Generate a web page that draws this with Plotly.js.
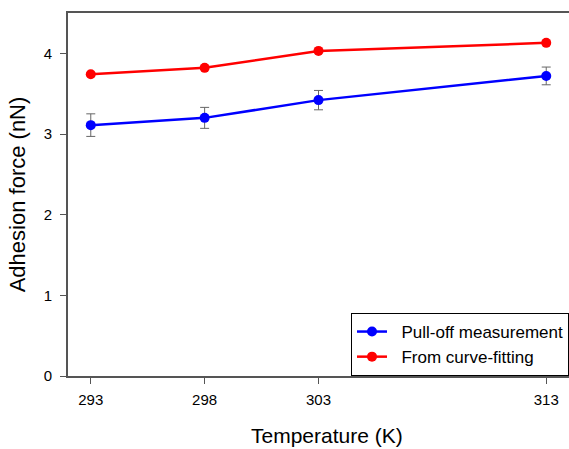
<!DOCTYPE html>
<html><head><meta charset="utf-8">
<script src="https://cdn.plot.ly/plotly-3.0.1.min.js"></script>
<style>html,body{margin:0;padding:0;background:#fff;overflow:hidden}#chart{width:569px;height:449px}</style>
</head><body><div id="chart"></div>
<script>
const temperatures = [293, 298, 303, 313];
const pullOff = [3.11, 3.20, 3.42, 3.72];
const pullOffErr = [0.14, 0.13, 0.12, 0.11];
const curveFit = [3.74, 3.82, 4.03, 4.13];
const xTicks = [293, 298, 303, 313];
const yTicks = [0, 1, 2, 3, 4];
const seriesNames = ['Pull-off measurement', 'From curve-fitting'];
const xTitle = 'Temperature (K)';
const yTitle = 'Adhesion force (nN)';

const pad = '\u00A0\u00A0';
const traces = [
  {x: temperatures, y: pullOff, name: pad + seriesNames[0], type: 'scatter', mode: 'lines+markers',
   line: {color: '#0000ff', width: 2.5}, marker: {color: '#0000ff', size: 10},
   error_y: {type: 'data', array: pullOffErr, visible: true, color: '#666', thickness: 1, width: 4.5}},
  {x: temperatures, y: curveFit, name: pad + seriesNames[1], type: 'scatter', mode: 'lines+markers',
   line: {color: '#ff0000', width: 2.5}, marker: {color: '#ff0000', size: 10}}
];
const layout = {
  width: 569, height: 449,
  margin: {l: 68, r: 0, t: 13, b: 73},
  font: {family: 'Liberation Sans, Arial, sans-serif', color: '#000', size: 15},
  paper_bgcolor: '#fff', plot_bgcolor: '#fff',
  showlegend: true,
  legend: {x: 1, xanchor: 'right', y: 0, yanchor: 'bottom', bordercolor: '#000', borderwidth: 1,
           bgcolor: '#fff', font: {size: 17}, tracegroupgap: 0},
  xaxis: {range: [292, 314], tickvals: xTicks, ticktext: xTicks.map(String), showgrid: false, zeroline: false,
          showline: true, linecolor: '#555', linewidth: 2, mirror: true, ticks: 'outside', ticklen: 6,
          tickcolor: '#555', tickfont: {size: 15}, ticklabelstandoff: 3},
  yaxis: {range: [0, 4.5], tickvals: yTicks, showgrid: false, zeroline: false,
          showline: true, linecolor: '#555', linewidth: 2, ticks: 'outside', ticklen: 6,
          tickcolor: '#555', tickfont: {size: 15}, ticklabelstandoff: 5,
          title: {text: yTitle, font: {size: 22}, standoff: 12}},
  annotations: [{text: xTitle, xref: 'paper', yref: 'paper', x: (327 - 68) / (569 - 68), y: -0.163,
                 xanchor: 'center', yanchor: 'middle', showarrow: false, font: {size: 21}}]
};
Plotly.newPlot('chart', traces, layout, {displayModeBar: false, staticPlot: true});
</script></body></html>
